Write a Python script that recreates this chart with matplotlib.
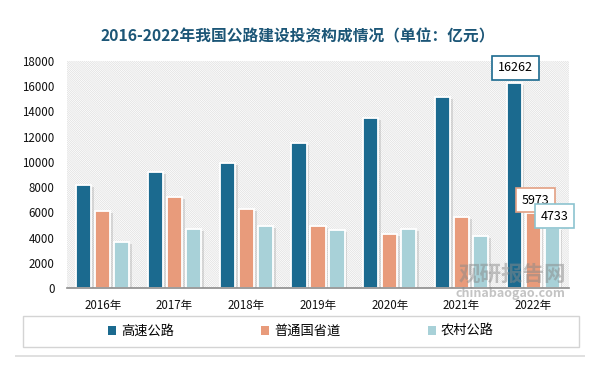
import numpy as np
import matplotlib
matplotlib.use('Agg')
import matplotlib.pyplot as plt
import matplotlib.patheffects as pe
from matplotlib.patches import Rectangle, Patch

plt.rcParams['font.family'] = ['Noto Sans CJK SC', 'DejaVu Sans']
plt.rcParams['hatch.linewidth'] = 0.45

# data (亿元)
years = ['2016年', '2017年', '2018年', '2019年', '2020年', '2021年', '2022年']
series_names = ['高速公路', '普通国省道', '农村公路']
highway = [8200, 9200, 9900, 11500, 13500, 15150, 16262]
national = [6100, 7250, 6300, 4900, 4250, 5600, 5973]
rural = [3650, 4700, 4950, 4600, 4700, 4100, 4733]
colors = ['#1b6a8f', '#e89b7b', '#a8d1d8']

fig = plt.figure(figsize=(6, 3.68), dpi=100)
fig.patch.set_facecolor('white')

# white card with soft shadow
card = Rectangle((15 / 600, 1 - 355 / 368), 570 / 600, 341 / 368, transform=fig.transFigure,
                 facecolor='white', edgecolor='none', zorder=-5)
card.set_path_effects([pe.SimplePatchShadow(offset=(0, -1.5), shadow_rgbFace='#999999', alpha=0.3),
                       pe.Normal()])
fig.patches.append(card)

fig.text(298 / 600, 1 - 36 / 368, '2016-2022年我国公路建设投资构成情况（单位：亿元）',
         ha='center', va='center', fontsize=11.3, fontweight='bold', color='#1c5677')

ax = fig.add_axes([67 / 600, 1 - 288 / 368, 502 / 600, 227 / 368])
ax.set_facecolor('white')
ax.add_patch(Rectangle((0, 0), 1, 1, transform=ax.transAxes, facecolor='white',
                       edgecolor='#dcdcdc', linewidth=0, hatch='\\' * 16, zorder=0))

x = np.arange(len(years))
w = 0.21
step = 0.265
shadow = [pe.SimplePatchShadow(offset=(2, -1.5), shadow_rgbFace='#9a9a9a', alpha=0.3), pe.Normal()]
for i, (vals, c, name) in enumerate(zip([highway, national, rural], colors, series_names)):
    bars = ax.bar(x + (i - 1) * step, vals, w, color=c, edgecolor='white', linewidth=1.3,
                  label=name, zorder=3)
    for b in bars:
        b.set_path_effects(shadow)

ax.set_xlim(-0.5, len(years) - 0.5)
ax.set_ylim(0, 18000)
ax.set_yticks(np.arange(0, 18001, 2000))
ax.set_xticks(x)
ax.set_xticklabels(years)
ax.tick_params(axis='both', length=0, labelsize=8.3, colors='#111111')
ax.tick_params(axis='x', pad=8)
ax.tick_params(axis='y', pad=9)
for s in ['top', 'right', 'left']:
    ax.spines[s].set_visible(False)
ax.spines['bottom'].set_color('#8c8c8c')
ax.spines['bottom'].set_linewidth(1.2)
ax.spines['bottom'].set_zorder(4)

# labels on last year
last = len(years) - 1
box = dict(boxstyle='square,pad=0.45', fc='white', lw=1.2)
ax.annotate(str(highway[last]), (x[last] - step, highway[last]), xytext=(1, 11),
            textcoords='offset points', ha='center', va='center', fontsize=9, zorder=6,
            bbox=dict(box, ec=colors[0]))
ax.annotate(str(national[last]), (x[last], national[last]), xytext=(1.5, 9),
            textcoords='offset points', ha='center', va='center', fontsize=9, zorder=6,
            bbox=dict(box, ec='#e3a083'))
ax.annotate(str(rural[last]), (x[last] + step, rural[last]), xytext=(1.5, 8.6),
            textcoords='offset points', ha='center', va='center', fontsize=9, zorder=7,
            bbox=dict(box, ec='#8cc3cf'))

# watermark
fig.text(512 / 600, 1 - 274 / 368, '观研报告网', ha='center', va='center', fontsize=15.5,
         fontweight='bold', color='#8a8a8a', alpha=0.5, zorder=10)
fig.text(510 / 600, 1 - 293 / 368, 'chinabaogao.com', ha='center', va='center', fontsize=9,
         fontweight='bold', color='#8a8a8a', alpha=0.5, zorder=10)

# legend with its own frame
frame = Rectangle((23 / 600, 1 - 347 / 368), 556 / 600, 31 / 368, transform=fig.transFigure,
                  facecolor='white', edgecolor='#d4d4d4', lw=1, zorder=1)
fig.patches.append(frame)
handles = [Patch(facecolor=c, edgecolor='none') for c in colors]
fig.legend(handles=handles, labels=series_names, ncol=3,
           loc='center', bbox_to_anchor=(301 / 600, 1 - 331.5 / 368), frameon=False,
           fontsize=9.5, handlelength=0.6, handleheight=0.6, handletextpad=0.4,
           columnspacing=6.6)

fig.savefig('out.png', dpi=100, facecolor=fig.get_facecolor())
